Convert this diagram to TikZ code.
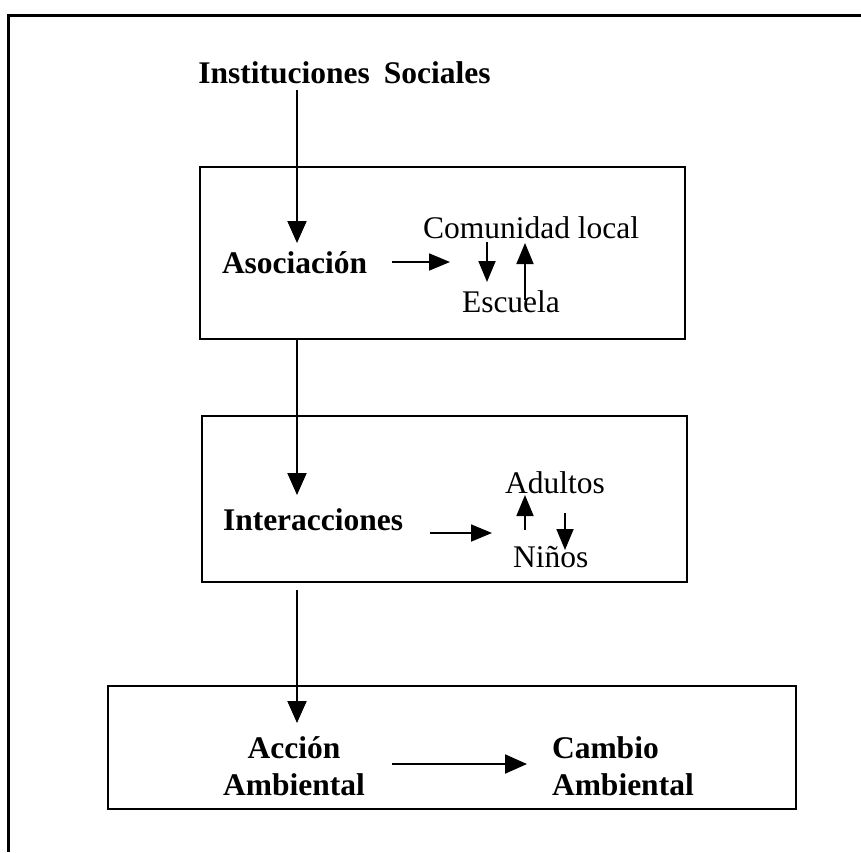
\documentclass[tikz,border=0pt]{standalone}
\usepackage{fontspec}
\setmainfont{Liberation Serif}
\usetikzlibrary{arrows.meta}
\begin{document}
\begin{tikzpicture}[x=1pt,y=-1pt,
  every node/.style={inner sep=0pt, outer sep=0pt},
  lbl/.style={font=\fontsize{31.5}{37}\selectfont},
  blbl/.style={font=\fontsize{31.5}{37}\selectfont\bfseries},
  stage/.style={draw, line width=2.4pt, minimum width=#1},
  arr/.style={line width=2pt, -{Triangle[length=22pt,width=19pt]}},
  sarr/.style={line width=1.8pt, -{Triangle[length=21pt,width=17pt]}}]
  \useasboundingbox (0,0) rectangle (861,852);

  % page frame (left and top edges only)
  \draw[line width=3pt] (8,852) -- (8,15) -- (861,15);

  % stage boxes
  \node[stage=485pt, minimum height=172pt] (box1) at (442.5,253) {};
  \node[stage=485pt, minimum height=166pt] (box2) at (444.5,499) {};
  \node[stage=688pt, minimum height=123pt] (box3) at (452,747.5) {};

  % labels
  \node[blbl, anchor=base] (inst) at (344.5,83) {Instituciones\hspace{0.45em}Sociales};
  \node[blbl, anchor=base west] (asoc) at (222,273) {Asociación};
  \node[lbl, anchor=base west] (com) at (423,238) {Comunidad local};
  \node[lbl, anchor=base west] (esc) at (462,312) {Escuela};
  \node[blbl, anchor=base west] (inter) at (223,530) {Interacciones};
  \node[lbl, anchor=base west] (adu) at (505,493) {Adultos};
  \node[lbl, anchor=base west] (nin) at (513,567) {Niños};
  \node[blbl, anchor=base] (acc) at (294,758)
    {\begin{tabular}[t]{@{}c@{}}Acción\\Ambiental\end{tabular}};
  \node[blbl, anchor=base west] (camb) at (552,758)
    {\begin{tabular}[t]{@{}l@{}}Cambio\\Ambiental\end{tabular}};

  % main flow down the left
  \coordinate (spine) at (297,0);
  \draw[arr] ([yshift=-7pt]inst.base -| spine) -- ([yshift=30pt]asoc.base -| spine);
  \draw[arr] (box1.south -| spine) -- ([yshift=35pt]inter.base -| spine);
  \draw[arr] ([yshift=-8pt]box2.south -| spine) -- ([yshift=35pt]acc.base -| spine);

  % association exchanges
  \draw[sarr] ([shift={(170pt,11pt)}]asoc.base west) -- ([shift={(-12pt,50pt)}]esc.base west);
  \draw[sarr] ([shift={(64pt,-4pt)}]com.base west) -- ([shift={(25pt,30pt)}]esc.base west);
  \draw[sarr] ([shift={(63pt,12pt)}]esc.base west) -- ([shift={(102pt,-5pt)}]com.base west);

  % interaction exchanges
  \draw[sarr] ([shift={(207pt,-3pt)}]inter.base west) -- ([shift={(-21pt,34pt)}]nin.base west);
  \draw[sarr] ([shift={(12pt,37pt)}]nin.base west) -- ([shift={(20pt,-2pt)}]adu.base west);
  \draw[sarr] ([shift={(60pt,-20pt)}]adu.base west) -- ([shift={(52pt,17pt)}]nin.base west);

  % action leads to change
  \draw[arr] ([shift={(98pt,-6pt)}]acc.base) -- ([shift={(-25pt,-6pt)}]camb.base west);
\end{tikzpicture}
\end{document}
